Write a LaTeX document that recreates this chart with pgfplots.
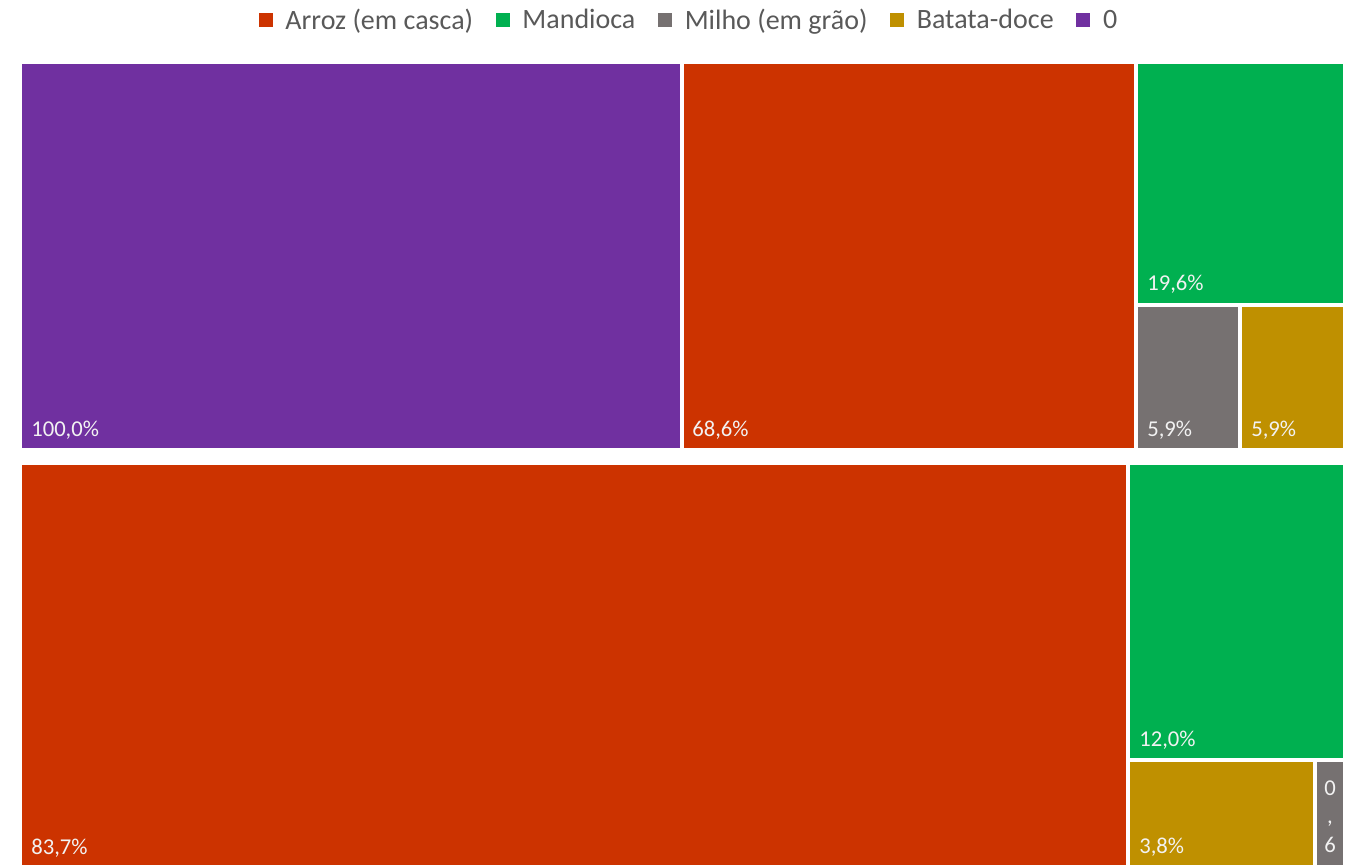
\documentclass[border=0pt]{standalone}
\usepackage{fontspec}
\setmainfont{Carlito}
\usepackage{pgfplots}
\pgfplotsset{compat=1.18}
\definecolor{cPurple}{HTML}{7030A0}
\definecolor{cRed}{HTML}{CC3300}
\definecolor{cGreen}{HTML}{00B050}
\definecolor{cGray}{HTML}{767171}
\definecolor{cGold}{HTML}{BF9000}
\definecolor{cText}{HTML}{595959}
\definecolor{cLab}{HTML}{F2F2F2}
\tikzset{lab/.style={anchor=base west, text=cLab, font=\fontsize{17}{20}\selectfont, inner sep=0pt}}
\begin{document}
\begin{tikzpicture}
\begin{axis}[
  width=1013.25pt, height=648.75pt, scale only axis,
  xmin=0, xmax=1351, ymin=0, ymax=865, y dir=reverse,
  hide axis, clip=false,
  legend columns=-1,
  legend style={at={(axis cs:688,20)}, anchor=center, draw=none, fill=none,
    font=\fontsize{21}{25}\selectfont, text=cText, inner sep=0pt,
    nodes={inner sep=0pt},
    /tikz/every even column/.append style={column sep=17pt}},
  legend image code/.code={\fill[#1, draw=none] (0pt,-5.25pt) rectangle (10.5pt,5.25pt); \path (20pt,0pt);},
]
% invisible frame for the bounding box
\addplot[draw=none, forget plot] coordinates {(0,0) (1351,865)};
% group 1
\addplot[fill=cPurple, draw=none, forget plot] coordinates {(22,64) (680,64) (680,448) (22,448)} --cycle;
\addplot[fill=cRed, draw=none, forget plot] coordinates {(684,64) (1134,64) (1134,448) (684,448)} --cycle;
\addplot[fill=cGreen, draw=none, forget plot] coordinates {(1138,64) (1343,64) (1343,303) (1138,303)} --cycle;
\addplot[fill=cGray, draw=none, forget plot] coordinates {(1138,307) (1238,307) (1238,448) (1138,448)} --cycle;
\addplot[fill=cGold, draw=none, forget plot] coordinates {(1242,307) (1343,307) (1343,448) (1242,448)} --cycle;
% group 2
\addplot[fill=cRed, draw=none, forget plot] coordinates {(22,465) (1126,465) (1126,865) (22,865)} --cycle;
\addplot[fill=cGreen, draw=none, forget plot] coordinates {(1130,465) (1343,465) (1343,758) (1130,758)} --cycle;
\addplot[fill=cGold, draw=none, forget plot] coordinates {(1130,762) (1313,762) (1313,865) (1130,865)} --cycle;
\addplot[fill=cGray, draw=none, forget plot] coordinates {(1317,762) (1343,762) (1343,865) (1317,865)} --cycle;
% legend
\addlegendimage{fill=cRed, draw=none}\addlegendentry{Arroz (em casca)}
\addlegendimage{fill=cGreen, draw=none}\addlegendentry{Mandioca}
\addlegendimage{fill=cGray, draw=none}\addlegendentry{Milho (em grão)}
\addlegendimage{fill=cGold, draw=none}\addlegendentry{Batata-doce}
\addlegendimage{fill=cPurple, draw=none}\addlegendentry{0}
% labels
\node[lab] at (axis cs:31,436) {100,0\%};
\node[lab] at (axis cs:692,436) {68,6\%};
\node[lab] at (axis cs:1147,290) {19,6\%};
\node[lab] at (axis cs:1147,436) {5,9\%};
\node[lab] at (axis cs:1251,436) {5,9\%};
\node[lab] at (axis cs:31,854) {83,7\%};
\node[lab] at (axis cs:1139,746) {12,0\%};
\node[lab] at (axis cs:1139,853) {3,8\%};
\node[lab, anchor=base] at (axis cs:1330,795) {0};
\node[lab, anchor=base] at (axis cs:1330,823) {,};
\node[lab, anchor=base] at (axis cs:1330,852) {6};
\end{axis}
\end{tikzpicture}
\end{document}
